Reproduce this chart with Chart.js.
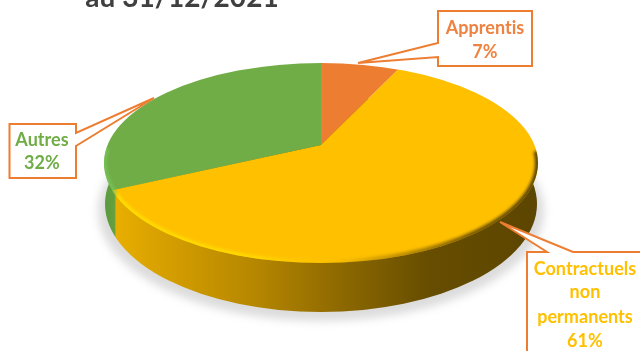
<!DOCTYPE html>
<html>
<head>
<meta charset="utf-8">
<style>
  html, body { margin: 0; padding: 0; background: #fff; overflow: hidden; }
  canvas { display: block; filter: blur(0.4px); }
</style>
<script src="https://cdn.jsdelivr.net/npm/chart.js@4/dist/chart.umd.min.js"></script>
</head>
<body>
<canvas id="pie" width="640" height="351"></canvas>
<script>
const categories = ["Apprentis", "Contractuels non permanents", "Autres"];
const shares = [7, 61, 32];
const sliceColors = ["#ED7D31", "#FFC000", "#70AD47"];
const labelColors = ["#EE8240", "#FFC000", "#70AD47"];
const titleText = "au 31/12/2021";

// how the flat pie is tilted on the page
const top3d = { cx: 321, cy: 163, rx: 217, ry: 100 };
const bottom3d = { cx: 321, cy: 204, rx: 216, ry: 108 };
const shadow3d = { cx: 321, cy: 211, rx: 223, ry: 110 };
const apex = { x: 321, y: 145 };
const overscan = 1.3;

// callout boxes, same order as categories
const callouts = [
  { lines: ["Apprentis", "7%"], textX: 485, textY: [28, 52],
    path: [[438, 11], [532, 11], [532, 66], [438, 66], [438, 57], [358, 63], [438, 43]] },
  { lines: ["Contractuels", "non", "permanents", "61%"], textX: 585, textY: [269, 292, 317, 341],
    path: [[527, 252], [547, 252], [500, 222], [573, 252], [645, 252], [645, 360], [527, 360]] },
  { lines: ["Autres", "32%"], textX: 42, textY: [140, 163],
    path: [[9.5, 124], [76, 124], [76, 133], [154, 98], [76, 146], [76, 178], [9.5, 178]] }
];

function ellipsePath(ctx, e) {
  ctx.beginPath();
  ctx.ellipse(e.cx, e.cy, e.rx, e.ry, 0, 0, Math.PI * 2);
}

const tiltPlugin = {
  id: "tilt",
  beforeDatasetsDraw(chart) {
    const ctx = chart.ctx;
    const arc = chart.getDatasetMeta(0).data[0];
    const R = arc.outerRadius;

    // soft shadow under the pie
    ctx.save();
    ctx.filter = "blur(4px)";
    ctx.fillStyle = "#dcdcdc";
    ellipsePath(ctx, shadow3d);
    ctx.fill();
    ctx.restore();

    // side wall
    const wall = ctx.createLinearGradient(104, 0, 538, 0);
    wall.addColorStop(0, "#5A9A3C");
    wall.addColorStop(0.024, "#62A040");
    wall.addColorStop(0.028, "#E8AE00");
    wall.addColorStop(0.1, "#DCA400");
    wall.addColorStop(0.35, "#B58600");
    wall.addColorStop(0.55, "#8C6800");
    wall.addColorStop(0.75, "#664D00");
    wall.addColorStop(1, "#5C4500");
    ctx.fillStyle = wall;
    ellipsePath(ctx, bottom3d);
    ctx.fill();

    // flatten the pie, its apex sits behind the middle of the ellipse
    ctx.save();
    ellipsePath(ctx, top3d);
    ctx.clip();
    ctx.translate(apex.x, apex.y);
    ctx.scale(overscan * top3d.rx / R, overscan * top3d.ry / R);
    ctx.translate(-arc.x, -arc.y);
  },
  afterDatasetsDraw(chart) {
    const ctx = chart.ctx;
    ctx.restore();

    // bevel on the rim
    const rim = ctx.createLinearGradient(104, 0, 538, 0);
    rim.addColorStop(0, "rgba(120,200,90,0.7)");
    rim.addColorStop(0.026, "rgba(120,200,90,0.7)");
    rim.addColorStop(0.03, "rgba(255,225,0,0.9)");
    rim.addColorStop(0.35, "rgba(255,225,0,0.7)");
    rim.addColorStop(0.5, "rgba(255,210,0,0.1)");
    rim.addColorStop(0.62, "rgba(120,90,0,0.3)");
    rim.addColorStop(0.85, "rgba(90,68,0,0.85)");
    rim.addColorStop(1, "rgba(90,68,0,1)");
    ctx.save();
    ellipsePath(ctx, top3d);
    ctx.clip();
    ctx.filter = "blur(1.5px)";
    ctx.strokeStyle = rim;
    ctx.lineWidth = 5;
    ctx.beginPath();
    ctx.ellipse(top3d.cx, top3d.cy, top3d.rx - 0.5, top3d.ry - 0.5, 0, -0.12, Math.PI + 0.15);
    ctx.stroke();
    ctx.restore();

    // title, cut by the top of the picture
    ctx.save();
    ctx.letterSpacing = "0.05px"; // keeps Lato from joining "ti"
    ctx.fillStyle = "#404040";
    ctx.font = "bold 28px Lato";
    ctx.textAlign = "center";
    ctx.textBaseline = "alphabetic";
    ctx.fillText(titleText, 182, 7);

    // callouts
    callouts.forEach((c, i) => {
      ctx.beginPath();
      c.path.forEach((p, j) => j ? ctx.lineTo(p[0], p[1]) : ctx.moveTo(p[0], p[1]));
      ctx.closePath();
      ctx.fillStyle = "#fff";
      ctx.fill();
      ctx.strokeStyle = "#ED7D31";
      ctx.lineWidth = 2;
      ctx.stroke();
      ctx.fillStyle = labelColors[i];
      ctx.font = "bold 18px Lato";
      ctx.textBaseline = "middle";
      c.lines.forEach((line, j) => ctx.fillText(line, c.textX, c.textY[j]));
    });
    ctx.restore();
  }
};

new Chart(document.getElementById("pie").getContext("2d"), {
  type: "pie",
  data: {
    labels: categories,
    datasets: [{
      data: shares,
      backgroundColor: sliceColors,
      borderWidth: 0
    }]
  },
  options: {
    responsive: false,
    animation: false,
    events: [],
    layout: { padding: 0 },
    plugins: {
      legend: { display: false },
      title: { display: false },
      tooltip: { enabled: false }
    }
  },
  plugins: [tiltPlugin]
});
</script>
</body>
</html>
